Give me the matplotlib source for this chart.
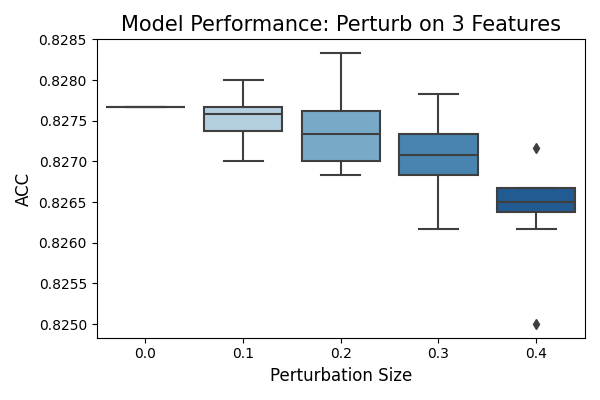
import matplotlib
matplotlib.use("Agg")
import matplotlib.pyplot as plt
import seaborn as sns
import pandas as pd

sizes = ["0.0", "0.1", "0.2", "0.3", "0.4"]

acc_00 = [0.827667] * 10
acc_01 = [0.827000, 0.827333, 0.827333, 0.827500, 0.827500,
          0.827667, 0.827667, 0.827667, 0.827833, 0.828000]
acc_02 = [0.826833, 0.827000, 0.827000, 0.827000, 0.827333,
          0.827333, 0.827500, 0.827667, 0.828000, 0.828333]
acc_03 = [0.826167, 0.826667, 0.826833, 0.826833, 0.827000,
          0.827167, 0.827333, 0.827333, 0.827500, 0.827833]
acc_04 = [0.825000, 0.826167, 0.826333, 0.826500, 0.826500,
          0.826500, 0.826667, 0.826667, 0.826667, 0.827167]

rows = []
for s, accs in zip(sizes, [acc_00, acc_01, acc_02, acc_03, acc_04]):
    for a in accs:
        rows.append({"Perturbation Size": s, "ACC": a})
df = pd.DataFrame(rows)

gray = "#3f3f3f"
fig, ax = plt.subplots(figsize=(6, 4), dpi=100)
sns.boxplot(data=df, x="Perturbation Size", y="ACC", hue="Perturbation Size",
            palette=sns.color_palette("Blues", len(sizes)), legend=False, ax=ax,
            linecolor=gray, linewidth=1.5,
            flierprops=dict(marker="d", markerfacecolor=gray,
                            markeredgecolor=gray, markersize=5))
ax.set_ylim(0.8248333, 0.82850001)
ax.set_title("Model Performance: Perturb on 3 Features", fontsize=15)
ax.set_xlabel("Perturbation Size", fontsize=12)
ax.set_ylabel("ACC", fontsize=12)
plt.tight_layout()
plt.savefig("out.png")
